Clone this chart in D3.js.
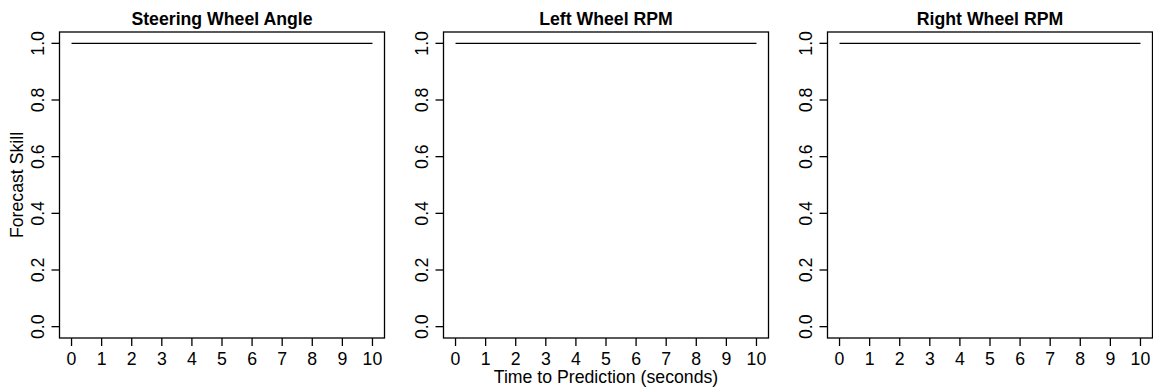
<!DOCTYPE html>
<html>
<head>
<meta charset="utf-8">
<script src="https://cdn.jsdelivr.net/npm/d3@7"></script>
<style>
body{margin:0;background:#fff;}
text{font-family:"Liberation Sans",Arial,sans-serif;fill:#000;}
</style>
</head>
<body>
<div id="chart-area"></div>
<script>
// panels and data
var titles=["Steering Wheel Angle","Left Wheel RPM","Right Wheel RPM"];
var horizon=[0,1,2,3,4,5,6,7,8,9,10];
var skillSteer=[1,1,1,1,1,1,1,1,1,1,1];
var skillLeft=[1,1,1,1,1,1,1,1,1,1,1];
var skillRight=[1,1,1,1,1,1,1,1,1,1,1];
var xTicks=[0,1,2,3,4,5,6,7,8,9,10];
var yTicks=[0,0.2,0.4,0.6,0.8,1.0];
var series=[skillSteer,skillLeft,skillRight];

var W=1153,H=389;
var svg=d3.select("#chart-area").append("svg").attr("width",W).attr("height",H);

var boxW=325,boxTop=32,boxBot=338;
var lefts=[59.5,443.5,827.5];
var fs=17.7;

// R style: 4% extension of ranges
var x=d3.scaleLinear().domain([-0.4,10.4]).range([0,boxW]);
var y=d3.scaleLinear().domain([-0.04,1.04]).range([boxBot-boxTop,0]);

titles.forEach(function(t,k){
	var g=svg.append("g").attr("transform","translate("+lefts[k]+","+boxTop+")");
	var h=boxBot-boxTop;

	g.append("rect").attr("x",0).attr("y",0).attr("width",boxW).attr("height",h)
	 .attr("fill","none").attr("stroke","#000").attr("stroke-width",1.3);

	//x axis
	var xa=g.append("g").attr("transform","translate(0,"+h+")");
	xa.selectAll("line").data(xTicks).enter().append("line")
	  .attr("x1",d=>x(d)).attr("x2",d=>x(d)).attr("y1",0).attr("y2",8)
	  .attr("stroke","#000").attr("stroke-width",1.3);
	xa.selectAll("text").data(xTicks).enter().append("text")
	  .attr("x",d=>x(d)).attr("y",27).attr("text-anchor","middle")
	  .style("font-size",fs+"px").text(d=>d);

	//y axis
	var ya=g.append("g");
	ya.selectAll("line").data(yTicks).enter().append("line")
	  .attr("x1",-8).attr("x2",0).attr("y1",d=>y(d)).attr("y2",d=>y(d))
	  .attr("stroke","#000").attr("stroke-width",1.3);
	ya.selectAll("text").data(yTicks).enter().append("text")
	  .attr("transform",d=>"translate(-16,"+y(d)+") rotate(-90)")
	  .attr("text-anchor","middle")
	  .style("font-size",fs+"px").text(d=>d.toFixed(1));

	//title
	g.append("text").attr("x",boxW/2).attr("y",-7).attr("text-anchor","middle")
	 .style("font-size",fs+"px").style("font-weight","bold").text(t);

	//line
	var line=d3.line().x((d,i)=>x(horizon[i])).y(d=>y(d));
	g.append("path").datum(series[k]).attr("d",line)
	 .attr("fill","none").attr("stroke","#000").attr("stroke-width",1.3);
});

svg.append("text").attr("x",lefts[1]+boxW/2).attr("y",383).attr("text-anchor","middle")
   .style("font-size",fs+"px").text("Time to Prediction (seconds)");
svg.append("text").attr("transform","translate(23,"+((boxTop+boxBot)/2)+") rotate(-90)")
   .attr("text-anchor","middle").style("font-size",fs+"px").text("Forecast Skill");
</script>
</body>
</html>
